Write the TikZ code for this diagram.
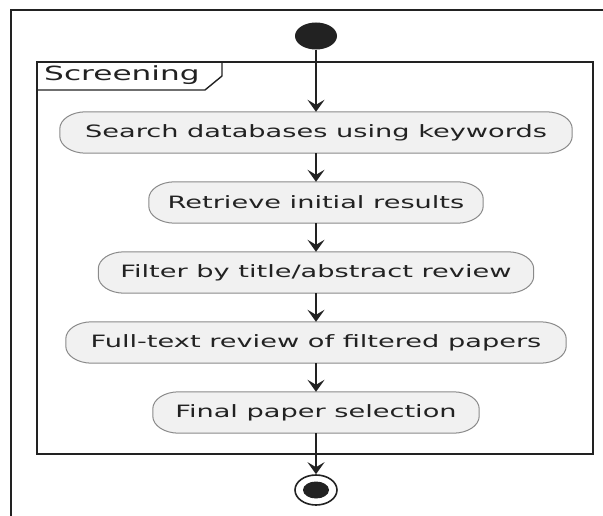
\documentclass[tikz,border=0pt]{standalone}
\usepackage{fontspec}
\setmainfont{DejaVu Sans}
\newfontfamily\widefont[FakeStretch=1.6]{DejaVu Sans}
\usetikzlibrary{arrows.meta,shapes.geometric,backgrounds}
\definecolor{boxfill}{HTML}{F1F1F1}
\definecolor{boxline}{HTML}{8A8A8A}
\definecolor{ink}{HTML}{222222}
\tikzset{
  act/.style={minimum height=41pt, inner sep=0pt,
    font=\widefont\fontsize{17}{20}\selectfont, text=ink},
  actline/.style={draw=boxline, fill=boxfill, line width=1pt},
  flow/.style={draw=ink, line width=1.8pt, -{Stealth[length=12pt, width=17pt, inset=5pt]}},
}
\newcommand\actbox[1]{%
  \path[actline] ([xshift=26pt]#1.north west) -- ([xshift=-26pt]#1.north east)
    arc[start angle=90, end angle=0, x radius=26pt, y radius=17pt]
    -- ([yshift=17pt]#1.south east)
    arc[start angle=0, end angle=-90, x radius=26pt, y radius=17pt]
    -- ([xshift=26pt]#1.south west)
    arc[start angle=270, end angle=180, x radius=26pt, y radius=17pt]
    -- ([yshift=-17pt]#1.north west)
    arc[start angle=180, end angle=90, x radius=26pt, y radius=17pt] -- cycle;}
\begin{document}
\begin{tikzpicture}[x=1pt, y=-1pt]
\useasboundingbox (0,0) rectangle (603,516);
% activities
\node[act, minimum width=512pt] (a1) at (316,132.5) {Search databases using keywords};
\node[act, minimum width=334pt] (a2) at (316,202.5) {Retrieve initial results};
\node[act, minimum width=435pt] (a3) at (316,272.5) {Filter by title/abstract review};
\node[act, minimum width=500pt] (a4) at (316,342.5) {Full-text review of filtered papers};
\node[act, minimum width=326pt] (a5) at (316,412.5) {Final paper selection};
\begin{scope}[on background layer]
  \fill[white] (0,0) rectangle (603,516);
  \actbox{a1}\actbox{a2}\actbox{a3}\actbox{a4}\actbox{a5}
\end{scope}
% outer page frame
\draw[ink, line width=1.2pt] (11,516) -- (11,10) -- (603,10);
% Screening frame
\draw[ink, line width=2.2pt] (37,62) rectangle (593,454);
\draw[ink, line width=1.4pt] (37,90) -- (205,90) -- (222,76) -- (222,62);
\node[anchor=west, font=\widefont\fontsize{19.5}{22}\selectfont, text=ink, inner sep=0pt] (lbl) at (44,75) {Screening};
% start
\node[ellipse, fill=ink, minimum width=42pt, minimum height=27pt, inner sep=0pt] (start) at (316,36) {};
% end
\node[ellipse, draw=ink, line width=1.6pt, fill=white, minimum width=42pt, minimum height=30pt, inner sep=0pt] (stop) at (316,490) {};
\node[ellipse, fill=ink, minimum width=26pt, minimum height=17pt, inner sep=0pt] (stopin) at (316,490) {};
% flows
\draw[flow] (start) -- (a1);
\draw[flow] (a1) -- (a2);
\draw[flow] (a2) -- (a3);
\draw[flow] (a3) -- (a4);
\draw[flow] (a4) -- (a5);
\draw[flow] (a5) -- (stop);
\end{tikzpicture}
\end{document}
